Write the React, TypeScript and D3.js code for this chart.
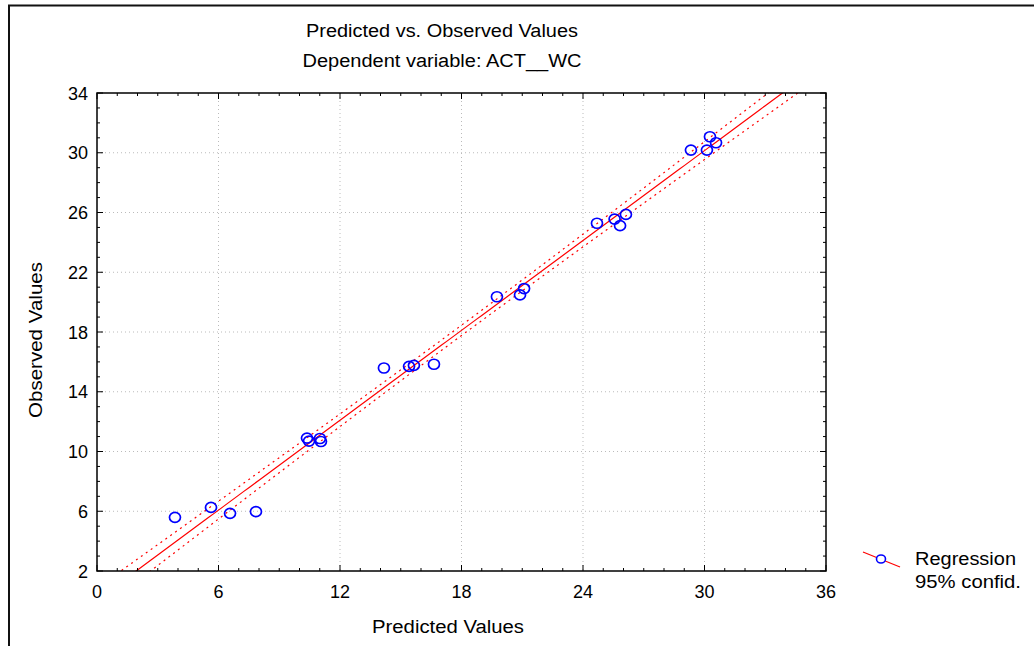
import React, { useEffect } from "react";
import * as d3 from "d3";

const predicted = [3.85, 5.63, 6.57, 7.85, 10.37, 10.47, 11.01, 11.06, 14.17, 15.41, 15.65, 16.64, 19.75, 20.89, 21.09, 24.69, 25.56, 25.83, 26.12, 29.33, 30.12, 30.27, 30.57];
const observed = [5.59, 6.26, 5.86, 5.97, 10.9, 10.7, 10.87, 10.67, 15.59, 15.7, 15.77, 15.84, 20.36, 20.48, 20.91, 25.28, 25.56, 25.12, 25.87, 30.18, 30.18, 31.07, 30.67];
const xTicks = [0, 6, 12, 18, 24, 30, 36];
const yTicks = [2, 6, 10, 14, 18, 22, 26, 30, 34];
const titleLines = ["Predicted vs. Observed Values", "Dependent variable: ACT__WC"];
const legendLabels = ["Regression", "95% confid."];

const W = 1034, H = 646;
const L = 97, R = 826, T = 93, B = 571;
const FONT = "'Liberation Sans', Arial, sans-serif";

export default function App() {
  useEffect(() => {
    document.body.style.margin = "0";
  }, []);

  const x = d3.scaleLinear().domain([0, 36]).range([L, R]);
  const y = d3.scaleLinear().domain([2, 34]).range([B, T]);

  // regression fitted from the points
  const n = predicted.length;
  const xm = d3.mean(predicted)!;
  const ym = d3.mean(observed)!;
  let sxx = 0, sxy = 0;
  for (let i = 0; i < n; i++) {
    sxx += (predicted[i] - xm) ** 2;
    sxy += (predicted[i] - xm) * (observed[i] - ym);
  }
  const b1 = sxy / sxx;
  const b0 = ym - b1 * xm;
  let sse = 0;
  for (let i = 0; i < n; i++) sse += (observed[i] - b0 - b1 * predicted[i]) ** 2;
  const s = Math.sqrt(sse / (n - 2));
  const tval = 2.08;
  const xs = d3.range(0, 36.01, 0.25);
  const fit = (v: number) => b0 + b1 * v;
  const hw = (v: number) => tval * s * Math.sqrt(1 / n + (v - xm) ** 2 / sxx);
  const line = d3.line<number[]>().x(d => x(d[0])).y(d => y(d[1]));
  const mainPath = line(xs.map(v => [v, fit(v)]))!;
  const upPath = line(xs.map(v => [v, fit(v) + hw(v)]))!;
  const loPath = line(xs.map(v => [v, fit(v) - hw(v)]))!;

  const xMinor = d3.range(0, 37, 1);
  const yMinor = d3.range(2, 35, 1);

  return (
    <svg width={W} height={H} style={{ display: "block", background: "#fff" }} fontFamily={FONT}>
      <defs>
        <clipPath id="plotclip">
          <rect x={L} y={T} width={R - L} height={B - T} />
        </clipPath>
      </defs>
      <rect x={9} y={5.5} width={1040} height={660} fill="none" stroke="#111" strokeWidth={2} />
      <text x={442} y={37} fontSize={18} fill="#000" textAnchor="middle" textLength={272} lengthAdjust="spacingAndGlyphs">{titleLines[0]}</text>
      <text x={442} y={67} fontSize={18} fill="#000" textAnchor="middle" textLength={279} lengthAdjust="spacingAndGlyphs">{titleLines[1]}</text>
      {/* grid */}
      {xTicks.filter(v => v > 0 && v < 36).map(v => (
        <line key={"gx" + v} x1={x(v)} x2={x(v)} y1={T} y2={B} stroke="#bbb" strokeWidth={1} strokeDasharray="1,3" />
      ))}
      {yTicks.filter(v => v > 2 && v < 34).map(v => (
        <line key={"gy" + v} x1={L} x2={R} y1={y(v)} y2={y(v)} stroke="#bbb" strokeWidth={1} strokeDasharray="1,3" />
      ))}
      {/* regression */}
      <g clipPath="url(#plotclip)" fill="none">
        <path d={mainPath} stroke="#ff0000" strokeWidth={1.2} />
        <path d={upPath} stroke="#ff0000" strokeWidth={1.2} strokeDasharray="2,4" />
        <path d={loPath} stroke="#ff0000" strokeWidth={1.2} strokeDasharray="2,4" />
        {predicted.map((p, i) => (
          <ellipse key={i} cx={x(p)} cy={y(observed[i])} rx={5.5} ry={5} stroke="#0000ff" strokeWidth={1.7} fill="none" />
        ))}
      </g>
      {/* minor/major ticks */}
      {xMinor.map(v => {
        const len = v % 6 === 0 ? 6 : 3;
        return (
          <g key={"tx" + v}>
            <line x1={x(v)} x2={x(v)} y1={B} y2={B - len} stroke="#000" />
            <line x1={x(v)} x2={x(v)} y1={T} y2={T + len} stroke="#000" />
          </g>
        );
      })}
      {yMinor.map(v => {
        const len = (v - 2) % 4 === 0 ? 6 : 3;
        return (
          <g key={"ty" + v}>
            <line x1={L} x2={L + len} y1={y(v)} y2={y(v)} stroke="#000" />
            <line x1={R} x2={R - len} y1={y(v)} y2={y(v)} stroke="#000" />
          </g>
        );
      })}
      <rect x={L} y={T} width={R - L} height={B - T} fill="none" stroke="#000" strokeWidth={1.5} />
      {xTicks.map(v => (
        <text key={"lx" + v} x={x(v)} y={B + 27} textAnchor="middle" fontSize={18} fill="#000">{v}</text>
      ))}
      {yTicks.map(v => (
        <text key={"ly" + v} x={L - 9} y={y(v) + 6.5} textAnchor="end" fontSize={18} fill="#000">{v}</text>
      ))}
      <text x={372} y={633} fontSize={18} fill="#000" textLength={152} lengthAdjust="spacingAndGlyphs">Predicted Values</text>
      <text transform={`translate(41.5,418) rotate(-90)`} fontSize={18} fill="#000" textLength={156} lengthAdjust="spacingAndGlyphs">Observed Values</text>
      {/* legend */}
      <line x1={863} y1={552} x2={900} y2={567} stroke="#ff0000" strokeWidth={1.2} />
      <ellipse cx={881} cy={559} rx={4.5} ry={4} stroke="#0000ff" strokeWidth={1.6} fill="#fff" />
      <text x={915} y={565} fontSize={18} fill="#000" textLength={101} lengthAdjust="spacingAndGlyphs">{legendLabels[0]}</text>
      <text x={915} y={588} fontSize={18} fill="#000" textLength={106} lengthAdjust="spacingAndGlyphs">{legendLabels[1]}</text>
    </svg>
  );
}
